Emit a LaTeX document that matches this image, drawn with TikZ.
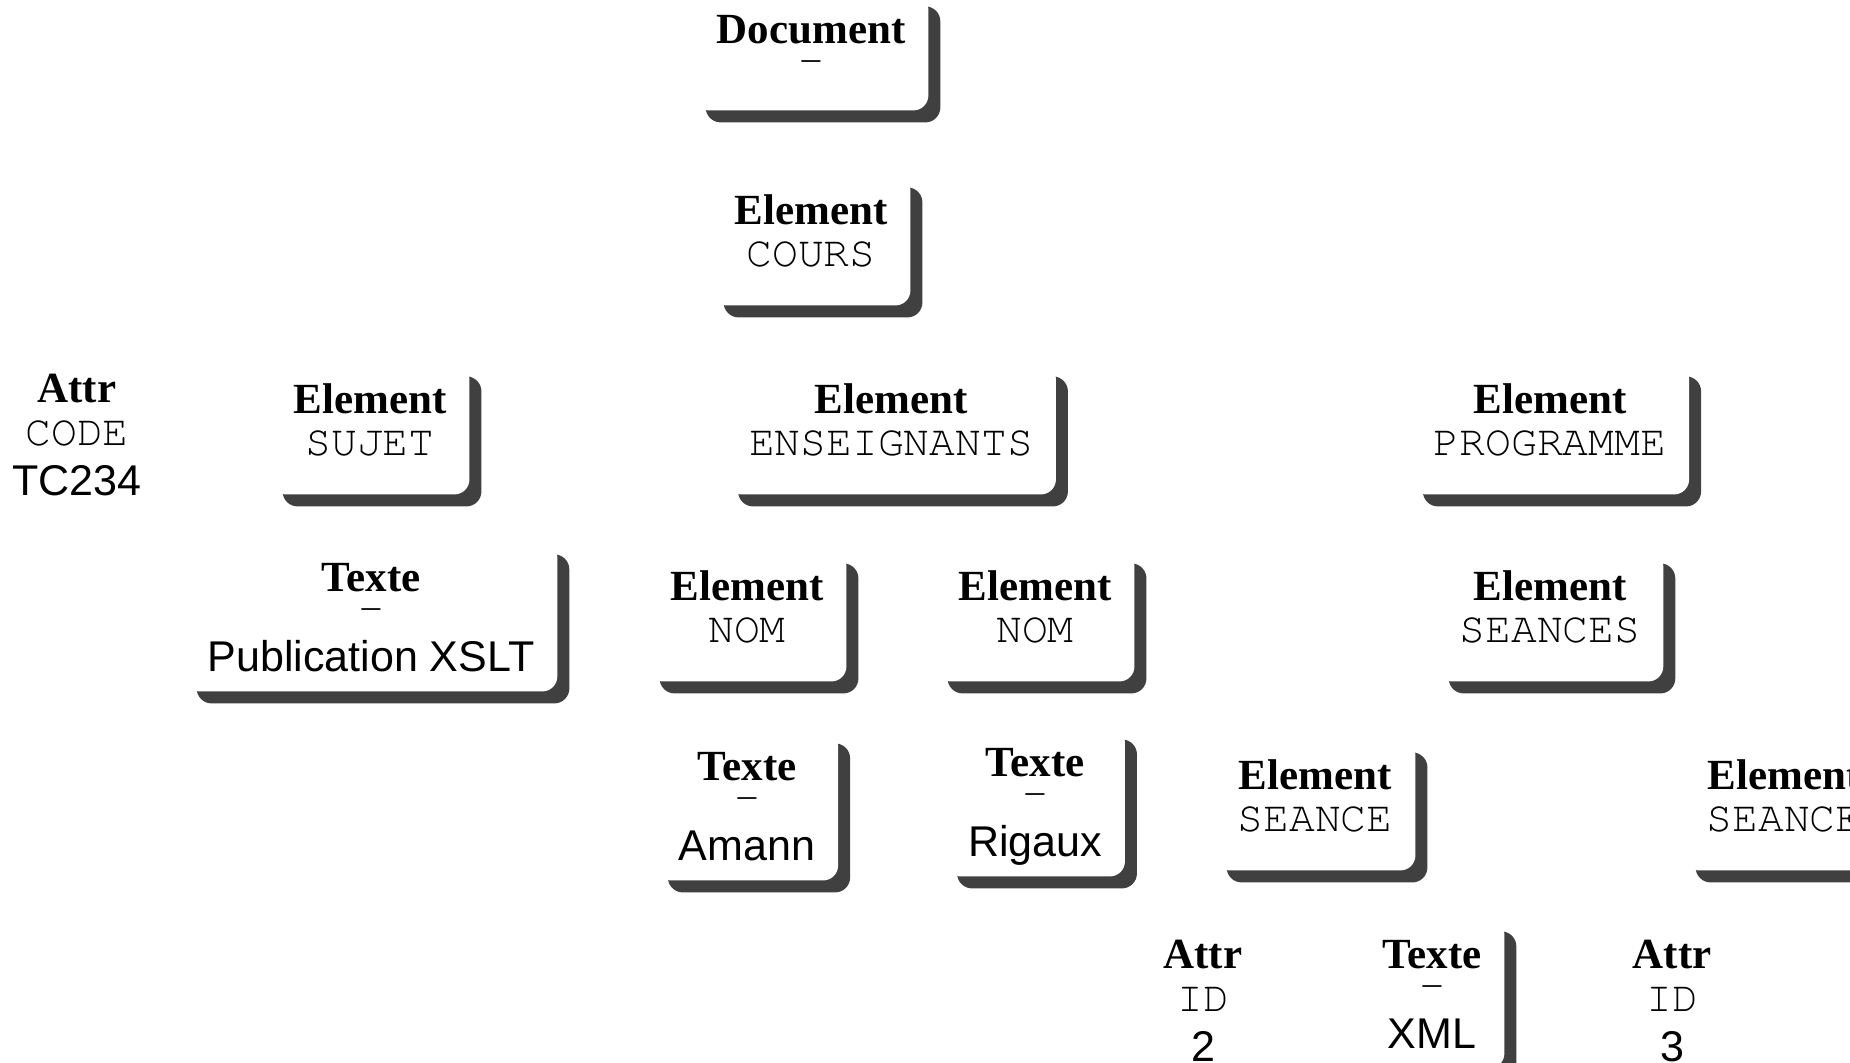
\documentclass[tikz,border=0pt]{standalone}
\usepackage{fontspec}
\setmainfont{Liberation Serif}
\setsansfont{Liberation Sans}
\setmonofont{texgyrecursor-regular.otf}
\usetikzlibrary{shadows}

\definecolor{ombre}{RGB}{64,64,64}

% three lines per node: kind, name, value
\newcommand\titre[1]{{\rmfamily\bfseries #1}}
\newcommand\elem[1]{\vbox{\offinterlineskip\halign{\hfil##\hfil\cr
  \rule{0pt}{24.5pt}\smash{\titre{Element}}\cr
  \rule[-19.5pt]{0pt}{40.5pt}\smash{\ttfamily #1}\cr}}}
\newcommand\texte[1]{\vbox{\offinterlineskip\halign{\hfil##\hfil\cr
  \rule{0pt}{24.5pt}\smash{\titre{Texte}}\cr
  \rule{0pt}{15pt}\smash{\ttfamily -}\cr
  \rule[-10pt]{0pt}{35pt}\smash{\sffamily #1}\cr}}}
\newcommand\attr[2]{\vbox{\offinterlineskip\halign{\hfil##\hfil\cr
  \rule{0pt}{24.5pt}\smash{\titre{Attr}}\cr
  \rule{0pt}{21.5pt}\smash{\ttfamily #1}\cr
  \rule{0pt}{25pt}\smash{\sffamily #2}\cr}}}
\newcommand\racine{\vbox{\offinterlineskip\halign{\hfil##\hfil\cr
  \rule{0pt}{24.5pt}\smash{\titre{Document}}\cr
  \rule[-18.5pt]{0pt}{33.5pt}\smash{\ttfamily -}\cr}}}

\begin{document}
\begin{tikzpicture}[x=0.5pt,y=-0.5pt,
    every node/.style={font=\fontsize{21.5}{26}\selectfont,anchor=north},
    boite/.style={fill=white,rounded corners=7.5pt,inner xsep=11.5pt,inner ysep=0pt,
      drop shadow={shadow xshift=6pt,shadow yshift=-6pt,opacity=1,fill=ombre}},
    libre/.style={inner sep=0pt}]
  \useasboundingbox (0,0) rectangle (1850,1062);
  \clip (0,0) rectangle (1850,1062);
  \node[boite] (doc)         at (811,-6)   {\racine};
  \node[boite] (cours)       at (811,175)  {\elem{COURS}};
  \node[libre] (code)        at (77,353)   {\attr{CODE}{TC234}};
  \node[boite] (sujet)       at (370,364)  {\elem{SUJET}};
  \node[boite] (enseignants) at (891,364)  {\elem{ENSEIGNANTS}};
  \node[boite] (programme)   at (1550,364) {\elem{PROGRAMME}};
  \node[boite] (xslt)        at (371,542)  {\texte{Publication XSLT}};
  \node[boite] (nom1)        at (747,551)  {\elem{NOM}};
  \node[boite] (nom2)        at (1035,551) {\elem{NOM}};
  \node[boite] (seances)     at (1550,551) {\elem{SEANCES}};
  \node[boite] (amann)       at (747,731)  {\texte{Amann}};
  \node[boite] (rigaux)      at (1035,727) {\texte{Rigaux}};
  \node[boite] (seance1)     at (1315,740) {\elem{SEANCE}};
  \node[boite] (seance2)     at (1784,740) {\elem{SEANCE}};
  \node[libre] (id2)         at (1203,919) {\attr{ID}{2}};
  \node[boite] (xml)         at (1432,919) {\texte{XML}};
  \node[libre] (id3)         at (1672,919) {\attr{ID}{3}};
\end{tikzpicture}
\end{document}
